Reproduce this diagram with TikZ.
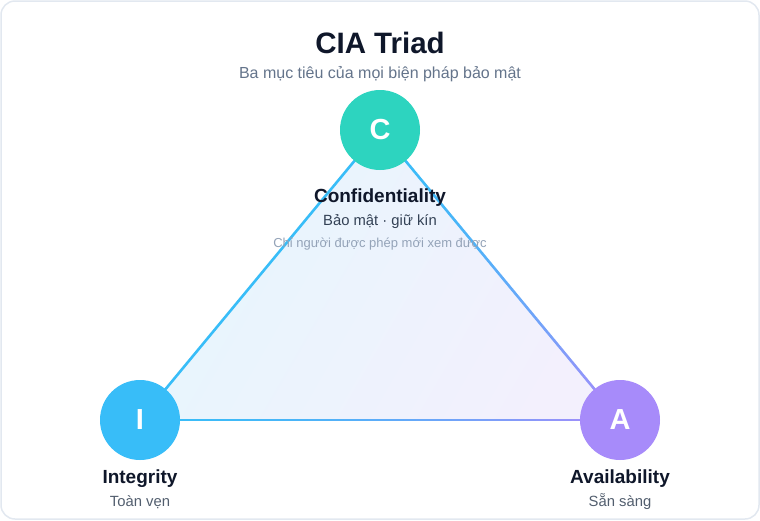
\documentclass[tikz,border=0pt]{standalone}
\usepackage{fontspec}
\setmainfont{Liberation Sans}
\usetikzlibrary{calc,backgrounds}

\definecolor{frameline}{HTML}{E2E8F0}
\definecolor{titleink}{HTML}{0F172A}
\definecolor{subink}{HTML}{64748B}
\definecolor{noteink}{HTML}{94A3B8}
\definecolor{bodyink}{HTML}{334155}
\definecolor{tealc}{HTML}{2DD4BF}
\definecolor{skyi}{HTML}{38BDF8}
\definecolor{violeta}{HTML}{A78BFA}
\definecolor{edgea}{HTML}{38BDF8}
\definecolor{edgeb}{HTML}{A78BFA}
\definecolor{fillc}{HTML}{E6F6FD}
\definecolor{filla}{HTML}{F3F0FD}

\begin{document}
\begin{tikzpicture}[x=1pt, y=-1pt,
    pillar/.style ={circle, minimum size=80pt, inner sep=0pt, text=white,
                    font=\fontsize{29}{31}\selectfont\bfseries},
    headline/.style ={text=titleink, font=\fontsize{19}{21}\selectfont\bfseries},
    meaning/.style ={text=bodyink, font=\fontsize{14.8}{17}\selectfont},
    hint/.style ={text=noteink, font=\fontsize{13}{15}\selectfont},
    side/.style ={line width=2.6pt, line cap=round}]
   \useasboundingbox (0,0) rectangle (760,520);

   % title
   \node[text=titleink, font=\fontsize{29.5}{31}\selectfont\bfseries] (title) at (380,43) {CIA Triad};
   \node[text=subink, font=\fontsize{16}{18}\selectfont] (subtitle) at (380,74) {Ba mục tiêu của mọi biện pháp bảo mật};

   % the three corners
   \node[pillar, fill=tealc] (C) at (380,130) {C};
   \node[pillar, fill=skyi] (I) at (140,420) {I};
   \node[pillar, fill=violeta] (A) at (620,420) {A};

   \begin{scope}[on background layer]
     \draw[frameline, fill=white, line width=1.5pt, rounded corners=14pt] (1,1) rectangle (759,519);
     \shade[left color=fillc, right color=filla, shading angle=60]
        (C.center) -- (I.center) -- (A.center) -- cycle;
     \draw[side, edgea] (C.center) -- (I.center);
     \foreach \k in {0,...,39} {
       \pgfmathsetmacro{\p}{100*(1-(\k/39)^1.6)}
       \draw[side, line cap=butt, edgea!\p!edgeb] ($(C.center)!\k/40!(A.center)$) -- ($(C.center)!\k/40+0.026!(A.center)$);
       \draw[side, line cap=butt, edgea!\p!edgeb] ($(I.center)!\k/40!(A.center)$) -- ($(I.center)!\k/40+0.026!(A.center)$);
     }
   \end{scope}

   % labels
   \node[headline] (conf) at (380,198) {Confidentiality};
   \node[meaning] (confvi) at (380,222) {Bảo mật · giữ kín};
   \node[hint] (confnote) at (380,244) {Chỉ người được phép mới xem được};
   \node[headline] (integ) at (140,479) {Integrity};
   \node[meaning, text=bodyink!85] (integvi) at (140,502) {Toàn vẹn};
   \node[headline] (avail) at (620,479) {Availability};
   \node[meaning, text=bodyink!85] (availvi) at (620,502) {Sẵn sàng};
\end{tikzpicture}
\end{document}
